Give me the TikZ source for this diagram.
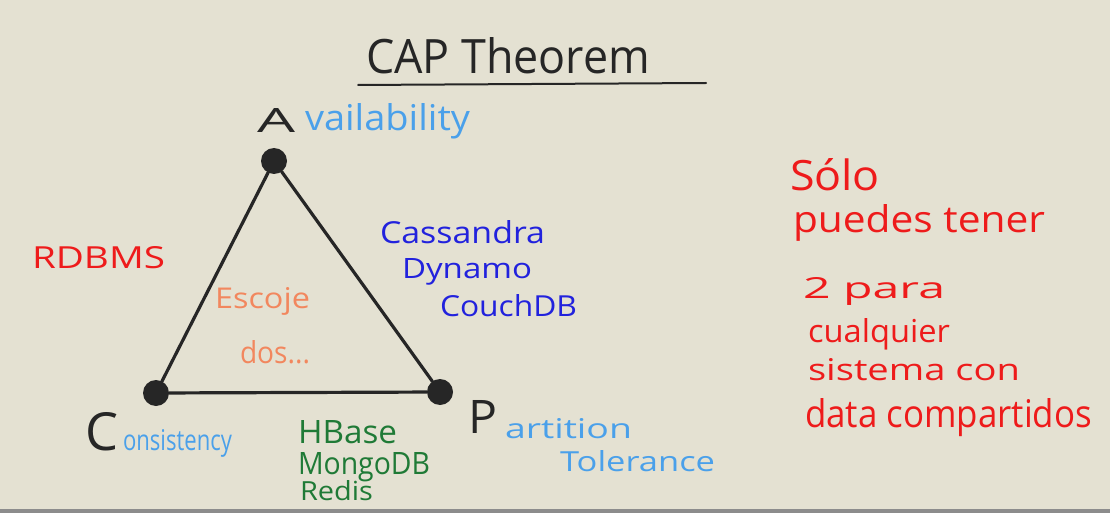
\documentclass[tikz,border=0pt]{standalone}
\usepackage{fontspec}
\setmainfont{Open Sans}
\usepackage{graphicx}
\definecolor{paper}{HTML}{E4E1D2}
\definecolor{pencil}{HTML}{262626}
\definecolor{lblue}{HTML}{4AA0EA}
\definecolor{dblue}{HTML}{2222DD}
\definecolor{hred}{HTML}{EE1B1B}
\definecolor{horange}{HTML}{F2875E}
\definecolor{hgreen}{HTML}{1F7A36}
\definecolor{strip}{HTML}{8C8C8C}
\newcommand{\hw}[3]{\resizebox{#1pt}{#2pt}{#3}}
\begin{document}
\begin{tikzpicture}[x=1pt,y=-1pt,
  txt/.style={anchor=base west, inner sep=0pt, outer sep=0pt},
  edge/.style={draw=pencil, line width=3.2pt, line cap=round},
  vdot/.style={circle, fill=pencil, minimum size=26pt, inner sep=0pt}]
\fill[paper] (0,0) rectangle (1110,513);
\useasboundingbox (0,0) rectangle (1110,513);
\fill[strip] (0,509) rectangle (1110,513);

% title
\node[txt, text=pencil] (title) at (366,74) {\hw{284}{36}{CAP Theorem}};
\coordinate (ulL) at (358,85);
\coordinate (ulR) at (706,83);
\draw[pencil, line width=2pt, line cap=round] (ulL) -- (ulR);

% vertices
\node[vdot] (A) at (274,161) {};
\node[vdot] (C) at (156,393) {};
\node[vdot] (P) at (440,392) {};
\draw[edge] (A) -- (C);
\draw[edge] (A) -- (P);
\draw[edge] (C) -- (P);

% vertex labels
\node[txt, text=pencil] (Abig) at (257,133) {\hw{38}{24}{A}};
\node[txt, text=lblue] (Arest) at (305,131) {\hw{165}{27}{vailability}};
\node[txt, text=pencil] (Cbig) at (85,450) {\hw{33}{38}{C}};
\node[txt, text=lblue] (Crest) at (123,450) {\hw{109}{21}{onsistency}};
\node[txt, text=pencil] (Pbig) at (468,433) {\hw{29}{33}{P}};
\node[txt, text=lblue] (Prest) at (505,438) {\hw{127}{20}{artition}};
\node[txt, text=lblue] (Tol) at (560,471) {\hw{155}{21}{Tolerance}};

% side labels
\node[txt, text=hred] (rdbms) at (32,268) {\hw{133}{22}{RDBMS}};
\node[txt, text=horange] (esc) at (215,308) {\hw{95}{21}{Escoje}};
\node[txt, text=horange] (dos) at (240,363) {\hw{70}{23}{dos...}};
\node[txt, text=dblue] (cass) at (380,243) {\hw{165}{23}{Cassandra}};
\node[txt, text=dblue] (dyn) at (402,278) {\hw{130}{20}{Dynamo}};
\node[txt, text=dblue] (couch) at (440,316) {\hw{137}{22}{CouchDB}};
\node[txt, text=hgreen] (hb) at (298,443) {\hw{99}{23}{HBase}};
\node[txt, text=hgreen] (mongo) at (298,474) {\hw{132}{22}{MongoDB}};
\node[txt, text=hgreen] (redis) at (300,500) {\hw{73}{20}{Redis}};

% note
\node[txt, text=hred] (n1) at (790,191) {\hw{90}{32}{Sólo}};
\node[txt, text=hred] (n2) at (793,232) {\hw{252}{28}{puedes tener}};
\node[txt, text=hred] (n3) at (803,298) {\hw{142}{21}{2 para}};
\node[txt, text=hred] (n4) at (808,342) {\hw{142}{24}{cualquier}};
\node[txt, text=hred] (n5) at (808,380) {\hw{212}{22}{sistema con}};
\node[txt, text=hred] (n6) at (805,427) {\hw{287}{29}{data compartidos}};
\end{tikzpicture}
\end{document}
